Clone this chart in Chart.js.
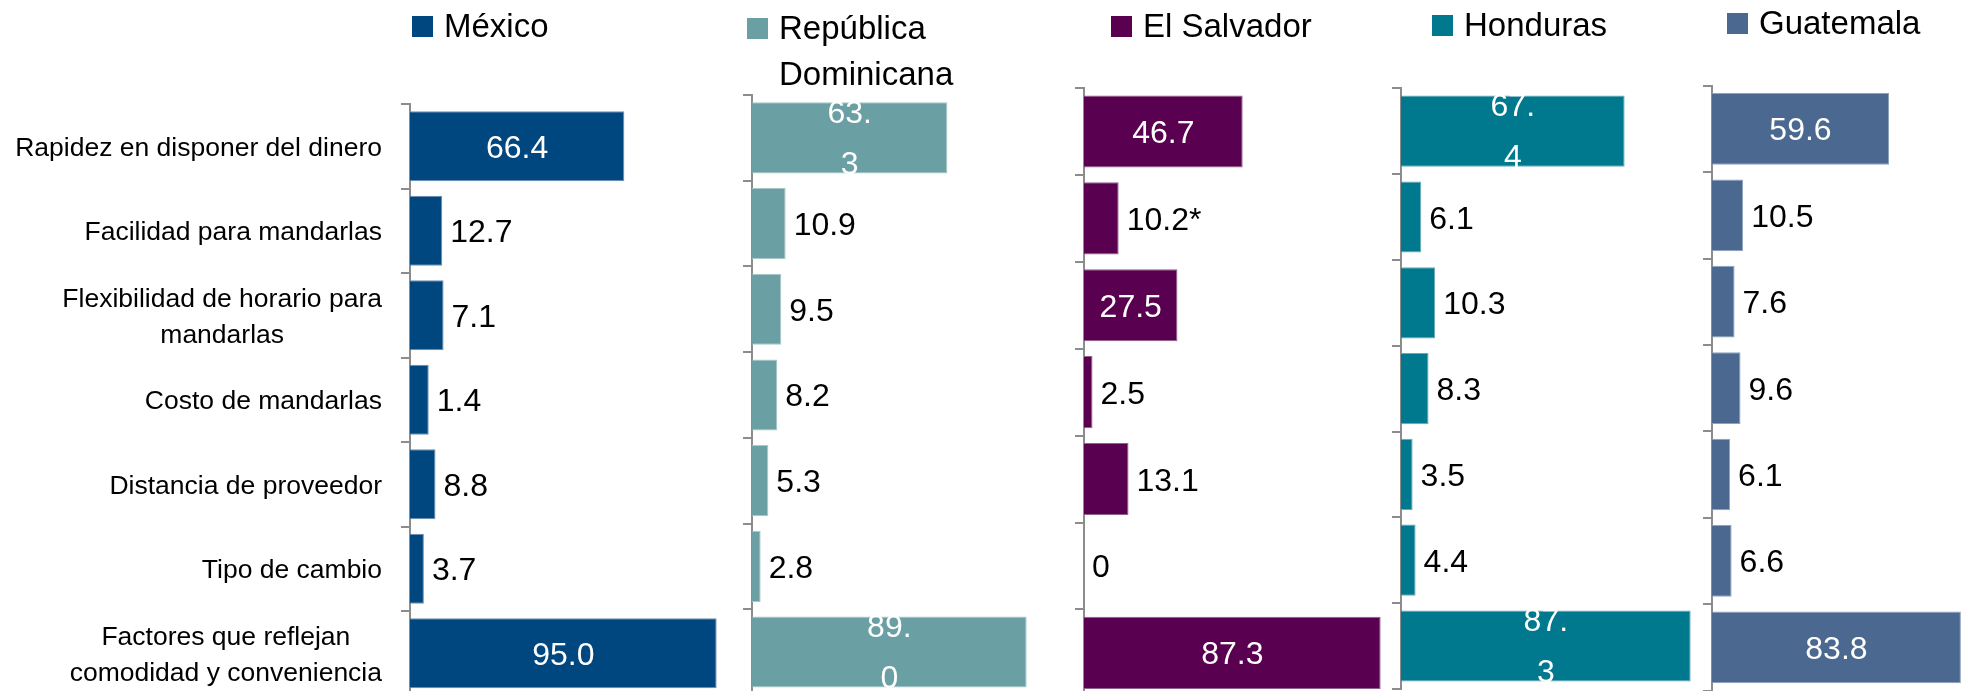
<!DOCTYPE html>
<html>
<head>
<meta charset="utf-8">
<script src="https://cdn.jsdelivr.net/npm/chart.js@4.4.0/dist/chart.umd.min.js"></script>
<style>
  html, body { margin: 0; padding: 0; background: #fff; overflow: hidden; }
  .panel { position: absolute; left: 0; top: 0; width: 1965px; height: 700px; }
</style>
</head>
<body>
<div class="panel"><canvas id="c0"></canvas></div>
<div class="panel"><canvas id="c1"></canvas></div>
<div class="panel"><canvas id="c2"></canvas></div>
<div class="panel"><canvas id="c3"></canvas></div>
<div class="panel"><canvas id="c4"></canvas></div>
<script>
const categories = [
  'Rapidez en disponer del dinero',
  'Facilidad para mandarlas',
  'Flexibilidad de horario para\nmandarlas',
  'Costo de mandarlas',
  'Distancia de proveedor',
  'Tipo de cambio',
  'Factores que reflejan\ncomodidad y conveniencia'
];
const countries = ['México', 'República Dominicana', 'El Salvador', 'Honduras', 'Guatemala'];

// bar lengths as drawn, and the label texts as printed on them
const mexico = [66.4, 10.0, 10.4, 5.8, 7.9, 4.3, 95.0];
const mexicoLabels = ['66.4', '12.7', '7.1', '1.4', '8.8', '3.7', '95.0'];
const dominicana = [63.3, 10.9, 9.5, 8.2, 5.3, 2.8, 89.0];
const dominicanaLabels = ['63.\n3', '10.9', '9.5', '8.2', '5.3', '2.8', '89.\n0'];
const salvador = [46.7, 10.2, 27.5, 2.5, 13.1, 0, 87.3];
const salvadorLabels = ['46.7', '10.2*', '27.5', '2.5', '13.1', '0', '87.3'];
const honduras = [67.4, 6.1, 10.3, 8.3, 3.5, 4.4, 87.3];
const hondurasLabels = ['67.\n4', '6.1', '10.3', '8.3', '3.5', '4.4', '87.\n3'];
const guatemala = [59.6, 10.5, 7.6, 9.6, 6.1, 6.6, 83.8];
const guatemalaLabels = ['59.6', '10.5', '7.6', '9.6', '6.1', '6.6', '83.8'];

const W = 1965, H = 700;
const FONT = '"Liberation Sans", Arial, sans-serif';
const tickLen = 9;

// layout of the five small charts
const panels = [
  { data: mexico, labels: mexicoLabels, color: '#00467f', edge: '#6f8fb0', axisX: 410, top: 104, pitch: 84.5, pxPerUnit: 3.228, legendX: 412, legendY: 16 },
  { data: dominicana, labels: dominicanaLabels, color: '#6a9fa3', edge: '#a9c7c9', axisX: 752, top: 95, pitch: 85.7, pxPerUnit: 3.086, legendX: 747, legendY: 18 },
  { data: salvador, labels: salvadorLabels, color: '#5a0051', edge: '#8f6289', axisX: 1084, top: 88, pitch: 86.9, pxPerUnit: 3.398, legendX: 1111, legendY: 16 },
  { data: honduras, labels: hondurasLabels, color: '#00788e', edge: '#6aaab8', axisX: 1401, top: 88.3, pitch: 85.8, pxPerUnit: 3.318, legendX: 1432, legendY: 15 },
  { data: guatemala, labels: guatemalaLabels, color: '#4b6890', edge: '#8fa2bd', axisX: 1712, top: 85.7, pitch: 86.4, pxPerUnit: 2.97, legendX: 1727, legendY: 13 }
];

const valueLabels = {
  id: 'valueLabels',
  afterDatasetsDraw(chart, args, opts) {
    const ctx = chart.ctx;
    const meta = chart.getDatasetMeta(0);
    ctx.save();
    ctx.font = '32px ' + FONT;
    meta.data.forEach((bar, i) => {
      const lines = opts.labels[i].split('\n');
      const w = Math.max(...lines.map(l => ctx.measureText(l).width));
      const len = bar.x - bar.base;
      const n = lines.length;
      if (w + 16 < len) {
        ctx.fillStyle = '#ffffff';
        ctx.textAlign = 'center';
        const cx = (bar.x + bar.base) / 2;
        const cy = bar.y - (n > 1 ? 1 : 0);
        lines.forEach((l, j) => ctx.fillText(l, cx, cy + (j - (n - 1) / 2) * 51 + 11.5));
      } else {
        ctx.fillStyle = '#000000';
        ctx.textAlign = 'left';
        lines.forEach((l, j) => ctx.fillText(l, bar.x + 8, bar.y + (j - (n - 1) / 2) * 51 + 11.5));
      }
    });
    ctx.restore();
  }
};

const legendBox = {
  id: 'legendBox',
  afterDraw(chart, args, opts) {
    const ctx = chart.ctx;
    ctx.save();
    ctx.font = '33px ' + FONT;
    ctx.fillStyle = opts.color;
    ctx.fillRect(opts.x, opts.y, 21, 21);
    // wrap the name like the original legend box does
    const words = opts.text.split(' ');
    const lines = [];
    let cur = '';
    words.forEach(wd => {
      const t = cur ? cur + ' ' + wd : wd;
      if (cur && ctx.measureText(t).width > 260) { lines.push(cur); cur = wd; } else cur = t;
    });
    lines.push(cur);
    ctx.fillStyle = '#000000';
    ctx.textAlign = 'left';
    lines.forEach((l, j) => ctx.fillText(l, opts.x + 32, opts.y + 21 + j * 46));
    ctx.restore();
  }
};

const categoryLabels = {
  id: 'categoryLabels',
  afterDraw(chart, args, opts) {
    if (!opts.show) return;
    const ctx = chart.ctx;
    const yScale = chart.scales.y;
    ctx.save();
    ctx.font = '26.5px ' + FONT;
    ctx.fillStyle = '#000000';
    ctx.textAlign = 'center';
    categories.forEach((c, i) => {
      const lines = c.split('\n');
      const w = Math.max(...lines.map(l => ctx.measureText(l).width));
      const cx = opts.right - w / 2;
      const cy = yScale.getPixelForValue(i);
      const n = lines.length;
      lines.forEach((l, j) => ctx.fillText(l, cx, cy + (j - (n - 1) / 2) * 36 + 9.5));
    });
    ctx.restore();
  }
};

panels.forEach((p, k) => {
  const bottom = p.top + p.pitch * categories.length;
  new Chart(document.getElementById('c' + k), {
    type: 'bar',
    data: {
      labels: categories,
      datasets: [{
        label: countries[k],
        data: p.data,
        backgroundColor: p.color,
        borderColor: p.edge,
        borderWidth: 1,
        barPercentage: 0.83,
        categoryPercentage: 1
      }]
    },
    options: {
      indexAxis: 'y',
      responsive: true,
      maintainAspectRatio: false,
      animation: false,
      layout: { padding: { left: p.axisX - tickLen, top: p.top, right: 0, bottom: H - bottom } },
      plugins: {
        legend: { display: false },
        tooltip: { enabled: false },
        valueLabels: { labels: p.labels },
        legendBox: { text: countries[k], color: p.color, x: p.legendX, y: p.legendY },
        categoryLabels: { show: k === 0, right: 382 }
      },
      scales: {
        x: { display: false, min: 0, max: (W - p.axisX) / p.pxPerUnit },
        y: {
          display: true,
          grid: { drawOnChartArea: false, drawTicks: true, tickLength: tickLen, color: '#8c8c8c', lineWidth: 2, offset: true },
          border: { display: true, color: '#8c8c8c', width: 2 },
          ticks: { display: false }
        }
      }
    },
    plugins: [valueLabels, legendBox, categoryLabels]
  });
});
</script>
</body>
</html>
